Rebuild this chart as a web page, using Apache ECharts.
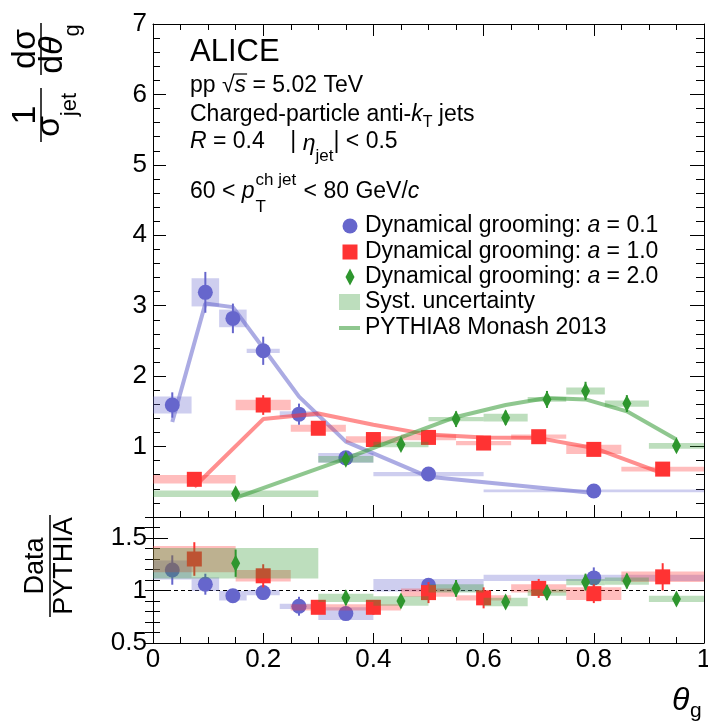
<!DOCTYPE html>
<html><head><meta charset="utf-8">
<script src="https://cdn.jsdelivr.net/npm/echarts@6/dist/echarts.min.js"></script>
<style>html,body{margin:0;padding:0;background:#fff}#c{width:708px;height:724px}</style>
</head><body><div id="c"></div>
<script>
const FONT = '"Liberation Sans", Arial, Helvetica, sans-serif';

// ---- a = 0.1 (blue) ----
const blueBinLo = [0.00, 0.07, 0.12, 0.17, 0.23, 0.30, 0.40, 0.60];
const blueBinHi = [0.07, 0.12, 0.17, 0.23, 0.30, 0.40, 0.60, 1.00];
const blueX     = [0.035, 0.095, 0.145, 0.20, 0.265, 0.35, 0.50, 0.80];
const blueY     = [1.59, 3.19, 2.82, 2.36, 1.46, 0.84, 0.61, 0.37];
const blueStat  = [0.18, 0.29, 0.21, 0.20, 0.15, 0.05, 0.03, 0.02];
const blueSyst  = [0.12, 0.20, 0.125, 0.03, 0.04, 0.07, 0.03, 0.02];
const bluePythia = [1.35, 3.03, 2.98, 2.40, 1.71, 1.07, 0.57, 0.34];
const blueRatio     = [1.195, 1.06, 0.95, 0.98, 0.85, 0.78, 1.05, 1.12];
const blueRatioStat = [0.14, 0.10, 0.05, 0.07, 0.09, 0.05, 0.03, 0.10];
const blueRatioSyst = [0.09, 0.065, 0.045, 0.025, 0.025, 0.06, 0.06, 0.03];

// ---- a = 1.0 (red) ----
const redBinLo = [0.00, 0.15, 0.25, 0.35, 0.45, 0.55, 0.65, 0.75, 0.85];
const redBinHi = [0.15, 0.25, 0.35, 0.45, 0.55, 0.65, 0.75, 0.85, 1.00];
const redX     = [0.075, 0.20, 0.30, 0.40, 0.50, 0.60, 0.70, 0.80, 0.925];
const redY     = [0.535, 1.59, 1.26, 1.10, 1.13, 1.05, 1.14, 0.96, 0.68];
const redStat  = [0.04, 0.14, 0.05, 0.04, 0.04, 0.04, 0.04, 0.05, 0.05];
const redSyst  = [0.06, 0.075, 0.05, 0.045, 0.04, 0.03, 0.03, 0.065, 0.035];
const redPythia = [0.43, 1.39, 1.47, 1.31, 1.17, 1.13, 1.12, 0.98, 0.62];
const redRatio     = [1.30, 1.14, 0.84, 0.84, 0.98, 0.93, 1.02, 0.97, 1.13];
const redRatioStat = [0.16, 0.11, 0.04, 0.07, 0.10, 0.10, 0.09, 0.09, 0.13];
const redRatioSyst = [0.125, 0.055, 0.03, 0.03, 0.04, 0.025, 0.04, 0.06, 0.05];

// ---- a = 2.0 (green) ----
const greenBinLo = [0.00, 0.30, 0.40, 0.50, 0.60, 0.68, 0.75, 0.82, 0.90];
const greenBinHi = [0.30, 0.40, 0.50, 0.60, 0.68, 0.75, 0.82, 0.90, 1.00];
const greenX     = [0.15, 0.35, 0.45, 0.55, 0.64, 0.715, 0.785, 0.86, 0.95];
const greenY     = [0.33, 0.82, 1.03, 1.39, 1.41, 1.67, 1.79, 1.61, 1.01];
const greenStat  = [0.03, 0.05, 0.05, 0.11, 0.10, 0.12, 0.13, 0.12, 0.05];
const greenSyst  = [0.045, 0.045, 0.04, 0.03, 0.055, 0.035, 0.05, 0.045, 0.04];
const greenPythia = [0.27, 0.83, 1.13, 1.42, 1.59, 1.69, 1.67, 1.50, 1.10];
const greenRatio     = [1.26, 0.93, 0.90, 1.02, 0.89, 0.98, 1.08, 1.09, 0.92];
const greenRatioStat = [0.13, 0.07, 0.06, 0.08, 0.05, 0.07, 0.08, 0.07, 0.05];
const greenRatioSyst = [0.145, 0.04, 0.045, 0.04, 0.04, 0.03, 0.03, 0.035, 0.03];

const legendLabels = ['Dynamical grooming: {i|a} = 0.1', 'Dynamical grooming: {i|a} = 1.0',
  'Dynamical grooming: {i|a} = 2.0', 'Syst. uncertainty', 'PYTHIA8 Monash 2013'];

const COL = {
  blue:  {m: '#6666CC', box: 'rgba(102,102,204,0.32)', line: 'rgba(102,102,204,0.55)'},
  red:   {m: '#FF3333', box: 'rgba(255,51,51,0.32)',   line: 'rgba(255,51,51,0.55)'},
  green: {m: '#2E962E', box: 'rgba(51,153,51,0.32)',   line: 'rgba(51,153,51,0.55)'}
};

const mctx = document.createElement('canvas').getContext('2d');
function tw(t, s, it) { mctx.font = (it ? 'italic ' : '') + s + 'px ' + FONT; return mctx.measureText(t).width; }
function txt(x, y, t, s, it, extra) {
  return Object.assign({type: 'text', x: x, y: y, silent: true, style: {
    text: t, fontSize: s, fontFamily: FONT, fontStyle: it ? 'italic' : 'normal', fill: '#000',
    align: 'left', verticalAlign: 'middle', textAlign: 'left', textVerticalAlign: 'middle'}}, extra || {});
}
// parts: [text, size, italic, dy, noAdvance]
function mathLine(x0, yc, parts) {
  const els = []; let x = x0; const pos = [];
  parts.forEach(p => {
    const [t, s, it, dy, noAdv] = p;
    pos.push(x);
    els.push(txt(x, yc + (dy || 0), t, s, it));
    if (!noAdv) x += tw(t, s, it);
  });
  return {els, end: x, pos};
}

function boxSeries(lo, hi, y, e, color, xi, yi, z) {
  return {type: 'custom', xAxisIndex: xi, yAxisIndex: yi, z: z, silent: true, clip: false,
    data: lo.map((l, i) => [l, hi[i], y[i], e[i]]), encode: {x: [0, 1], y: 2},
    renderItem: (params, api) => {
      const a = api.coord([api.value(0), api.value(2) + api.value(3)]);
      const b = api.coord([api.value(1), api.value(2) - api.value(3)]);
      return {type: 'rect', shape: {x: a[0], y: a[1], width: b[0] - a[0], height: Math.max(b[1] - a[1], 2)},
        style: {fill: color}};
    }};
}
function errSeries(x, y, e, color, xi, yi, z) {
  return {type: 'custom', xAxisIndex: xi, yAxisIndex: yi, z: z, silent: true,
    data: x.map((v, i) => [v, y[i], e[i]]), encode: {x: 0, y: 1},
    renderItem: (params, api) => {
      const a = api.coord([api.value(0), api.value(1) - api.value(2)]);
      const b = api.coord([api.value(0), api.value(1) + api.value(2)]);
      return {type: 'line', shape: {x1: a[0], y1: a[1], x2: b[0], y2: b[1]}, style: {stroke: color, lineWidth: 2}};
    }};
}
function markSeries(x, y, symbol, size, color, xi, yi, z) {
  return {type: 'scatter', xAxisIndex: xi, yAxisIndex: yi, z: z, silent: true, symbol: symbol, symbolSize: size,
    itemStyle: {color: color, opacity: 1, borderWidth: 0}, data: x.map((v, i) => [v, y[i]])};
}
function lineSeries(x, y, color, xi, yi, z) {
  return {type: 'line', xAxisIndex: xi, yAxisIndex: yi, z: z, silent: true, showSymbol: false, symbol: 'none',
    lineStyle: {color: color, width: 4}, data: x.map((v, i) => [v, y[i]])};
}

const groups = [
  {c: COL.blue, lo: blueBinLo, hi: blueBinHi, x: blueX, y: blueY, st: blueStat, sy: blueSyst, p: bluePythia,
   r: blueRatio, rst: blueRatioStat, rsy: blueRatioSyst, sym: 'circle', size: 15},
  {c: COL.red, lo: redBinLo, hi: redBinHi, x: redX, y: redY, st: redStat, sy: redSyst, p: redPythia,
   r: redRatio, rst: redRatioStat, rsy: redRatioSyst, sym: 'rect', size: 15},
  {c: COL.green, lo: greenBinLo, hi: greenBinHi, x: greenX, y: greenY, st: greenStat, sy: greenSyst, p: greenPythia,
   r: greenRatio, rst: greenRatioStat, rsy: greenRatioSyst, sym: 'diamond', size: [9, 17]}
];

const series = [];
series.push({type: 'line', xAxisIndex: 2, yAxisIndex: 2, z: 0, silent: true, showSymbol: false, symbol: 'none',
  lineStyle: {color: '#000', width: 1, type: [4, 3]}, data: [[0, 1], [1, 1]]});
groups.forEach((g, k) => {
  const z0 = 1 + k * 4;
  series.push(boxSeries(g.lo, g.hi, g.y, g.sy, g.c.box, 0, 0, z0));
  series.push(lineSeries(g.x, g.p, g.c.line, 0, 0, z0 + 1));
  series.push(errSeries(g.x, g.y, g.st, g.c.m, 0, 0, z0 + 2));
  series.push(markSeries(g.x, g.y, g.sym, g.size, g.c.m, 0, 0, z0 + 3));
  series.push(boxSeries(g.lo, g.hi, g.r, g.rsy, g.c.box, 2, 2, z0));
  series.push(errSeries(g.x, g.r, g.rst, g.c.m, 2, 2, z0 + 2));
  series.push(markSeries(g.x, g.r, g.sym, g.size, g.c.m, 2, 2, z0 + 3));
});

const BLK = {color: '#000', width: 1};
function xAx(grid, pos, tickLen, minorLen, labels) {
  return {gridIndex: grid, type: 'value', min: 0, max: 1, interval: 0.2, position: pos,
    axisLine: {show: true, onZero: false, lineStyle: BLK},
    axisTick: {show: tickLen > 0, inside: true, length: tickLen, lineStyle: BLK},
    minorTick: {show: minorLen > 0, splitNumber: 4, length: minorLen, lineStyle: BLK},
    axisLabel: {show: !!labels, fontSize: 26, color: '#000', fontFamily: FONT, margin: 4},
    splitLine: {show: false}, minorSplitLine: {show: false}};
}
function yAx(grid, pos, min, max, interval, tickLen, opts) {
  return Object.assign({gridIndex: grid, type: 'value', min: min, max: max, interval: interval, position: pos,
    axisLine: {show: true, onZero: false, lineStyle: BLK},
    axisTick: {show: true, inside: true, length: tickLen, lineStyle: BLK},
    minorTick: {show: false},
    axisLabel: {show: false},
    splitLine: {show: false}, minorSplitLine: {show: false}}, opts || {});
}

// ---- graphic texts ----
const G = [];
// Top-left annotation
G.push(txt(190, 52, 'ALICE', 31));
const l2 = mathLine(190, 86, [['pp ', 23], ['\u221A', 23], ['s', 23, true], [' = 5.02 TeV', 23]]);
G.push(...l2.els);
G.push({type: 'line', silent: true, shape: {x1: l2.pos[2] - 1, y1: 74, x2: l2.pos[3] + 1, y2: 74}, style: {stroke: '#000', lineWidth: 1.2}});
G.push(...mathLine(190, 115, [['Charged-particle anti-', 23], ['k', 23, true], ['T', 16, false, 8], [' jets', 23]]).els);
G.push(...mathLine(190, 142, [['R', 23, true], [' = 0.4    | ', 23], ['\u03B7', 23, true, 2], ['jet', 17, false, 14], ['| < 0.5', 23]]).els);
(function () {
  const l = mathLine(190, 192, [['60 < ', 23], ['p', 23, true]]);
  G.push(...l.els);
  const xs = l.end + 1;
  G.push(txt(xs, 180, 'ch jet', 17));
  G.push(txt(xs, 207, 'T', 17));
  const x2 = xs + Math.max(tw('ch jet', 17), tw('T', 17)) + 1;
  G.push(...mathLine(x2, 192, [[' < 80 GeV/', 23], ['c', 23, true]]).els);
})();

// Legend
const LX = 350, LT = 365, rows = [226, 252, 277, 302, 328];
G.push({type: 'circle', silent: true, shape: {cx: LX, cy: rows[0], r: 7.5}, style: {fill: COL.blue.m}});
G.push({type: 'rect', silent: true, shape: {x: LX - 7.5, y: rows[1] - 7.5, width: 15, height: 15}, style: {fill: COL.red.m}});
G.push({type: 'polygon', silent: true, shape: {points: [[LX, rows[2] - 8.5], [LX + 4.5, rows[2]], [LX, rows[2] + 8.5], [LX - 4.5, rows[2]]]}, style: {fill: COL.green.m}});
G.push({type: 'rect', silent: true, shape: {x: 339, y: rows[3] - 8, width: 21, height: 16}, style: {fill: COL.green.box}});
G.push({type: 'line', silent: true, shape: {x1: 339, y1: rows[4], x2: 360, y2: rows[4]}, style: {stroke: COL.green.line, lineWidth: 4}});
legendLabels.forEach((t, i) => {
  G.push({type: 'text', x: LT, y: rows[i], silent: true, style: {text: t, fontSize: 23, fontFamily: FONT, fill: '#000',
    align: 'left', verticalAlign: 'middle', textAlign: 'left', textVerticalAlign: 'middle',
    rich: {i: {fontSize: 23, fontFamily: FONT, fontStyle: 'italic', fill: '#000'}}}});
});

// Y title top (rotated fraction)
(function () {
  const S = 34, s = 22;
  const ch = [];
  ch.push({type: 'line', shape: {x1: -60, y1: 0, x2: -6, y2: 0}, style: {stroke: '#000', lineWidth: 1.5}});
  const one = txt(-33, -15, '1', S); one.style.align = 'center'; one.style.textAlign = 'center'; ch.push(one);
  const wS = tw('\u03C3', S), wj = tw('jet', s);
  let x = -33 - (wS + wj) / 2;
  ch.push(txt(x, 9, '\u03C3', S)); ch.push(txt(x + wS, 29, 'jet', s));
  ch.push({type: 'line', shape: {x1: 7, y1: 0, x2: 59, y2: 0}, style: {stroke: '#000', lineWidth: 1.5}});
  const n2 = txt(33, -15, 'd\u03C3', S); n2.style.align = 'center'; n2.style.textAlign = 'center'; ch.push(n2);
  const wd = tw('d', S), wt = tw('\u03B8', S, true), wg = tw('g', s);
  x = 33 - (wd + wt + wg) / 2;
  ch.push(txt(x, 12, 'd', S)); ch.push(txt(x + wd, 12, '\u03B8', S, true)); ch.push(txt(x + wd + wt, 32, 'g', s));
  G.push({type: 'group', x: 41, y: 82, rotation: Math.PI / 2, silent: true, children: ch});
})();
// Y title bottom
(function () {
  const S = 27;
  const a = txt(0, -14, 'Data', S); a.style.align = 'center'; a.style.textAlign = 'center';
  const b = txt(0, 15, 'PYTHIA', S); b.style.align = 'center'; b.style.textAlign = 'center';
  G.push({type: 'group', x: 50, y: 566, rotation: Math.PI / 2, silent: true, children: [
    {type: 'line', shape: {x1: -51, y1: 0, x2: 51, y2: 0}, style: {stroke: '#000', lineWidth: 1.5}}, a, b]});
})();
// X title
G.push(txt(672, 701, '\u03B8', 32, true));
G.push(txt(690, 711, 'g', 21));

const option = {
  animation: false,
  backgroundColor: '#fff',
  textStyle: {fontFamily: FONT},
  grid: [
    {left: 153, top: 24, width: 551, height: 493, outerBoundsMode: 'none', containLabel: false},
    {left: 153, top: 517, width: 551, height: 126, outerBoundsMode: 'none', containLabel: false}
  ],
  xAxis: [
    xAx(0, 'bottom', 12, 6, false),
    xAx(0, 'top', 12, 6, false),
    xAx(1, 'bottom', 10, 6, true),
    xAx(1, 'top', 0, 0, false)
  ],
  yAxis: [
    yAx(0, 'left', 0, 7, 1, 13, {minorTick: {show: true, splitNumber: 5, length: 7, lineStyle: BLK},
      axisLabel: {show: true, fontSize: 26, color: '#000', fontFamily: FONT, margin: 6, showMinLabel: false}}),
    yAx(0, 'right', 0, 7, 1, 14, {minorTick: {show: true, splitNumber: 5, length: 8, lineStyle: BLK}}),
    yAx(1, 'left', 0.5, 1.7, 0.5, 15, {axisLabel: {show: true, fontSize: 26, color: '#000', fontFamily: FONT, margin: 6, showMaxLabel: false}}),
    yAx(1, 'left', 0.5, 1.7, 0.1, 7, {axisLine: {show: false}}),
    yAx(1, 'right', 0.5, 1.7, 0.5, 14),
    yAx(1, 'right', 0.5, 1.7, 0.1, 8, {axisLine: {show: false}})
  ],
  series: series,
  graphic: {elements: G}
};
const chart = echarts.init(document.getElementById('c'));
chart.setOption(option);
</script></body></html>
